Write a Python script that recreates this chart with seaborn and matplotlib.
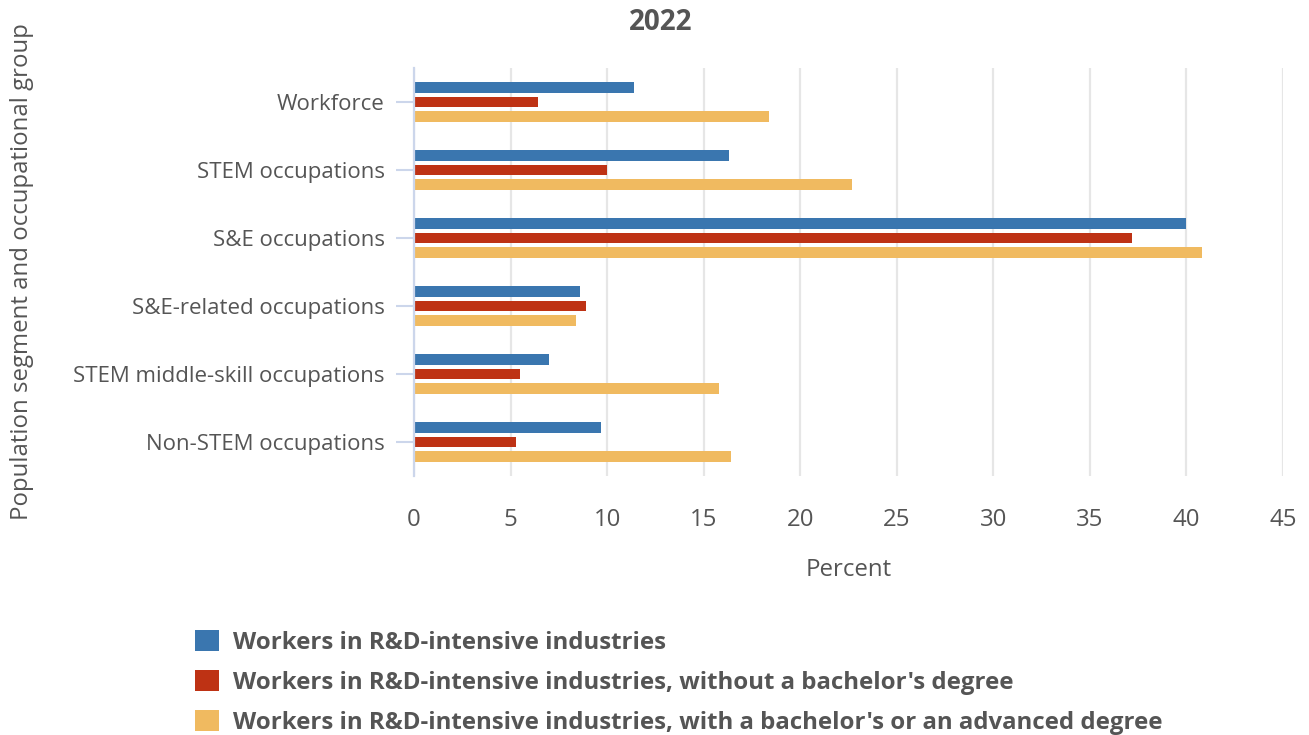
import pandas as pd
import numpy as np
import matplotlib.pyplot as plt
import seaborn as sns

# ---- data (percent, 2022) ----
groups = ['Workforce', 'STEM occupations', 'S&E occupations',
          'S&E-related occupations', 'STEM middle-skill occupations',
          'Non-STEM occupations']
series = ["Workers in R&D-intensive industries",
          "Workers in R&D-intensive industries, without a bachelor's degree",
          "Workers in R&D-intensive industries, with a bachelor's or an advanced degree"]
all_workers = [11.4, 16.3, 40.0, 8.6, 7.0, 9.7]
no_bachelor = [6.4, 10.0, 37.2, 8.9, 5.5, 5.3]
with_degree = [18.4, 22.7, 40.8, 8.4, 15.8, 16.4]
colors = ['#3a76af', '#be3214', '#f0ba60']
x_ticks = [0, 5, 10, 15, 20, 25, 30, 35, 40, 45]

df = pd.DataFrame({
    'group': groups * 3,
    'series': [series[0]] * 6 + [series[1]] * 6 + [series[2]] * 6,
    'value': all_workers + no_bachelor + with_degree,
})

sns.set_style('white')
plt.rcParams['font.family'] = ['Open Sans', 'DejaVu Sans']
text_col = '#555555'
fs = 17.3

fig = plt.figure(figsize=(13.09, 7.35), dpi=100)
ax = fig.add_axes([414 / 1309, 1 - 476 / 735, 869 / 1309, 408 / 735])

sns.barplot(data=df, y='group', x='value', hue='series', order=groups,
            hue_order=series, palette=colors, saturation=1, orient='h',
            width=0.62, gap=0.22, linewidth=0, ax=ax, zorder=3)

ax.set_xlim(0, 45)
ax.set_xticks(x_ticks)
ax.set_ylim(len(groups) - 0.5, -0.5)
ax.grid(True, axis='x', color='#e6e6e6', linewidth=1.6, zorder=0)
ax.grid(False, axis='y')
for s in ['top', 'right', 'bottom']:
    ax.spines[s].set_visible(False)
ax.spines['left'].set_color('#ccd6eb')
ax.spines['left'].set_linewidth(1.6)
ax.spines['left'].set_zorder(4)
ax.tick_params(axis='y', length=13, width=1.5, color='#ccd6eb', pad=8,
               labelsize=16, labelcolor=text_col, left=True)
ax.tick_params(axis='x', length=0, pad=23, labelsize=fs, labelcolor=text_col)

ax.set_xlabel('Percent', fontsize=fs, color=text_col, labelpad=19)
ax.set_ylabel('')
fig.text(22 / 1309, 1 - 272 / 735, 'Population segment and occupational group',
         rotation=90, ha='center', va='center', fontsize=fs, color=text_col)
fig.text(661 / 1309, 1 - 22 / 735, '2022', ha='center', va='center',
         fontsize=20, fontweight='bold', color=text_col)

handles, labels = ax.get_legend_handles_labels()
ax.get_legend().remove()
fig.legend(handles, labels, loc='upper left',
           bbox_to_anchor=(185 / 1309, 1 - 620 / 735), frameon=False,
           prop={'size': fs, 'weight': 'bold'}, labelcolor=text_col,
           handlelength=1.0, handleheight=1.0, handletextpad=0.6,
           labelspacing=0.63, borderaxespad=0)

plt.savefig('out.png', dpi=100)
plt.close()
